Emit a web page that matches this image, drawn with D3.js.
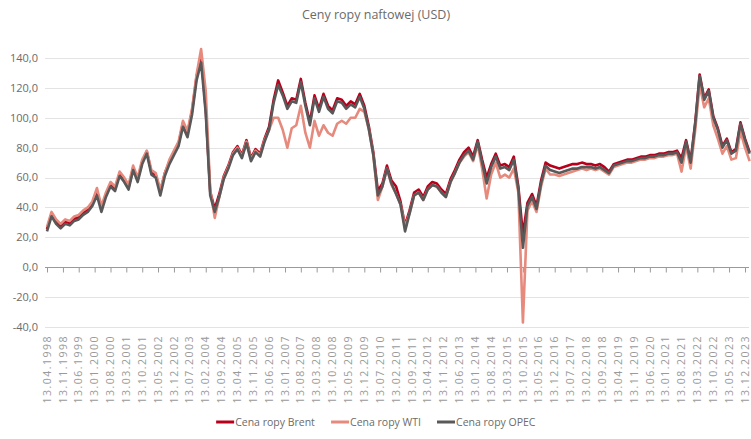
<!DOCTYPE html>
<html>
<head>
<meta charset="utf-8">
<script src="https://cdn.jsdelivr.net/npm/d3@7"></script>
<style>
  body { margin: 0; background: #fff; }
  svg { display: block; font-family: "Open Sans", sans-serif; }
</style>
</head>
<body>
<svg id="chart" width="751" height="439"></svg>
<script>
// one point every two months, starting 13.04.1998
var START = "13.04.1998";
var brent = [25.5, 35.5, 30.5, 27.5, 30.5, 29.5, 32.5, 33.5, 36.5, 38.5, 42.5, 50.5, 39.5, 48.5, 55.5, 52.5,
  62.5, 58.5, 53.5, 66.5, 58.5, 70.5, 77.5, 63.5, 61.5, 50.5, 63, 70.5, 76.5, 82.5, 96.5, 89.5,
  104.5, 127.5, 142, 105.5, 50.5, 39, 49, 61, 68, 77, 81, 75, 85, 73, 79, 76,
  86, 94, 112, 125, 117, 108, 113, 112, 126, 110, 97, 115, 106, 116, 108, 105,
  113, 112, 108, 111, 109, 116, 108, 94, 77, 51, 56, 68, 58, 54, 44, 28,
  38, 50, 52, 47, 54, 57, 56, 52, 49, 59, 65, 72, 77, 80, 74, 85,
  72, 60, 69, 76, 68, 69, 67, 74, 54, 22, 43, 49, 41, 58, 70, 68,
  67, 66, 67, 68, 69, 69, 70, 69, 69, 68, 69, 67, 64, 69, 70, 71,
  72, 72, 73, 74, 74, 75, 75, 76, 76, 77, 77, 78, 73, 85, 71, 97,
  129, 113, 119, 101, 93, 81, 86, 77, 79, 97, 86, 77];
var wti = [27, 37, 32, 29, 32, 31, 34, 35, 38, 40, 44, 53, 41, 50, 57, 54,
  64, 60, 55, 68, 60, 72, 78, 65, 63, 52, 63, 72, 78, 84, 98, 91,
  106, 129, 146, 118, 52, 33, 47, 60, 67, 76, 80, 74, 84, 72, 78, 75,
  85, 92, 100, 100, 92, 80, 93, 95, 108, 90, 80, 98, 88, 95, 90, 88,
  96, 98, 96, 100, 100, 106, 104, 92, 75, 45, 54, 66, 55, 49, 42, 27,
  36, 48, 50, 45, 52, 55, 54, 50, 47, 57, 63, 70, 74, 77, 71, 82,
  66, 46, 62, 70, 60, 62, 60, 66, 50, -37, 38, 44, 37, 54, 66, 62,
  62, 61, 62, 63, 64, 65, 66, 65, 66, 65, 66, 64, 62, 67, 68, 69,
  70, 70, 71, 72, 72, 73, 73, 74, 74, 75, 75, 76, 64, 81, 66, 92,
  122, 107, 113, 95, 86, 76, 81, 72, 73, 91, 80, 71];
var opec = [24, 34, 29, 26, 29, 28, 31, 32, 35, 37, 41, 48, 37, 47, 54, 51,
  61, 57, 52, 65, 57, 69, 76, 62, 60, 48, 61, 69, 75, 81, 94, 87,
  102, 125, 137, 103, 48, 37, 47, 59, 66, 75, 79, 73, 83, 71, 77, 74,
  84, 92, 110, 122, 115, 106, 111, 110, 124, 108, 95, 113, 104, 114, 106, 103,
  111, 110, 106, 109, 107, 114, 106, 92, 75, 48, 54, 66, 56, 49, 42, 24,
  36, 48, 50, 45, 52, 55, 54, 50, 47, 57, 63, 70, 75, 78, 72, 84,
  70, 56, 67, 74, 66, 67, 65, 72, 52, 13, 41, 47, 39, 56, 68, 65,
  64, 63, 64, 65, 66, 66, 67, 67, 67, 66, 67, 65, 63, 68, 69, 70,
  71, 71, 72, 73, 73, 74, 74, 75, 75, 76, 76, 77, 70, 84, 70, 96,
  128, 112, 118, 100, 92, 80, 85, 76, 78, 96, 85, 76];

var tickLabels = ["13.04.1998", "13.11.1998", "13.06.1999", "13.01.2000", "13.08.2000", "13.03.2001",
  "13.10.2001", "13.05.2002", "13.12.2002", "13.07.2003", "13.02.2004", "13.09.2004", "13.04.2005",
  "13.11.2005", "13.06.2006", "13.01.2007", "13.08.2007", "13.03.2008", "13.10.2008", "13.05.2009",
  "13.12.2009", "13.07.2010", "13.02.2011", "13.09.2011", "13.04.2012", "13.11.2012", "13.06.2013",
  "13.01.2014", "13.08.2014", "13.03.2015", "13.10.2015", "13.05.2016", "13.12.2016", "13.07.2017",
  "13.02.2018", "13.09.2018", "13.04.2019", "13.11.2019", "13.06.2020", "13.01.2021", "13.08.2021",
  "13.03.2022", "13.10.2022", "13.05.2023", "13.12.2023"];
var yTicks = [-40, -20, 0, 20, 40, 60, 80, 100, 120, 140];

var seriesNames = ["Cena ropy Brent", "Cena ropy WTI", "Cena ropy OPEC"];
var seriesColors = ["#b8001c", "#e68a7d", "#595959"];

var TEXT = "#6b6b6b";
var svg = d3.select("#chart");
var parse = d3.timeParse("%d.%m.%Y");
var startDate = parse(START);
var tickDates = tickLabels.map(parse);

var dates = brent.map(function (d, i) {
  return d3.timeMonth.offset(startDate, i * 2);
});

var x = d3.scaleTime()
  .domain([tickDates[0], tickDates[tickDates.length - 1]])
  .range([47, 745]);
var y = d3.scaleLinear().domain([-40, 140]).range([327, 58]);

// title
svg.append("text")
  .attr("x", 376).attr("y", 19)
  .attr("text-anchor", "middle")
  .attr("fill", TEXT).attr("font-size", 12.5)
  .text("Ceny ropy naftowej (USD)");

// gridlines + y labels
var fmtY = function (v) { return d3.format(".1f")(v).replace(".", ",").replace("−", "-"); };
svg.append("g").selectAll("line")
  .data(yTicks.filter(function (v) { return v !== 0; }))
  .join("line")
  .attr("x1", 45).attr("x2", 749)
  .attr("y1", function (d) { return Math.round(y(d)) + 0.5; })
  .attr("y2", function (d) { return Math.round(y(d)) + 0.5; })
  .attr("stroke", "#e3e3e3").attr("stroke-width", 1);

svg.append("g").selectAll("text")
  .data(yTicks)
  .join("text")
  .attr("x", 38)
  .attr("y", function (d) { return y(d); })
  .attr("dy", "0.35em")
  .attr("text-anchor", "end")
  .attr("fill", TEXT).attr("font-size", 11)
  .text(fmtY);

// zero axis with ticks
var xAxis = d3.axisBottom(x).tickValues(tickDates).tickSize(5).tickSizeOuter(0).tickFormat("");
var axisG = svg.append("g")
  .attr("transform", "translate(0," + (Math.round(y(0)) + 0.5) + ")")
  .call(xAxis);
axisG.select(".domain").attr("stroke", "#9a9a9a").attr("d", "M45,0H749");
axisG.selectAll(".tick line").attr("stroke", "#9a9a9a");

// category labels sit below the plot, rotated
svg.append("g").selectAll("text")
  .data(tickDates)
  .join("text")
  .attr("transform", function (d) { return "translate(" + x(d) + ",335) rotate(-90)"; })
  .attr("dy", "0.35em")
  .attr("text-anchor", "end")
  .attr("fill", "#9a9a9a").attr("font-size", 10.5)
  .attr("letter-spacing", 1.5)
  .text(function (d, i) { return tickLabels[i]; });

// lines
var line = d3.line()
  .x(function (d) { return x(d[0]); })
  .y(function (d) { return y(d[1]); });

[brent, wti, opec].forEach(function (vals, k) {
  svg.append("path")
    .datum(dates.map(function (d, i) { return [d, vals[i]]; }))
    .attr("fill", "none")
    .attr("stroke", seriesColors[k])
    .attr("stroke-width", 2.6)
    .attr("stroke-linejoin", "round")
    .attr("d", line);
});

// legend, centred under the chart
var legend = svg.append("g");
var items = legend.selectAll("g").data(seriesNames).join("g");
items.append("line")
  .attr("x1", 0).attr("x2", 18).attr("y1", 0).attr("y2", 0)
  .attr("stroke", function (d, i) { return seriesColors[i]; })
  .attr("stroke-width", 3);
items.append("text")
  .attr("x", 19).attr("dy", "0.35em")
  .attr("fill", TEXT).attr("font-size", 10.5)
  .text(function (d) { return d; });

var offset = 0;
items.each(function () {
  var w = this.getBBox().width;
  d3.select(this).attr("transform", "translate(" + offset + ",0)");
  offset += w + 16;
});
legend.attr("transform", "translate(" + (376 - (offset - 16) / 2) + ",422)");
</script>
</body>
</html>
